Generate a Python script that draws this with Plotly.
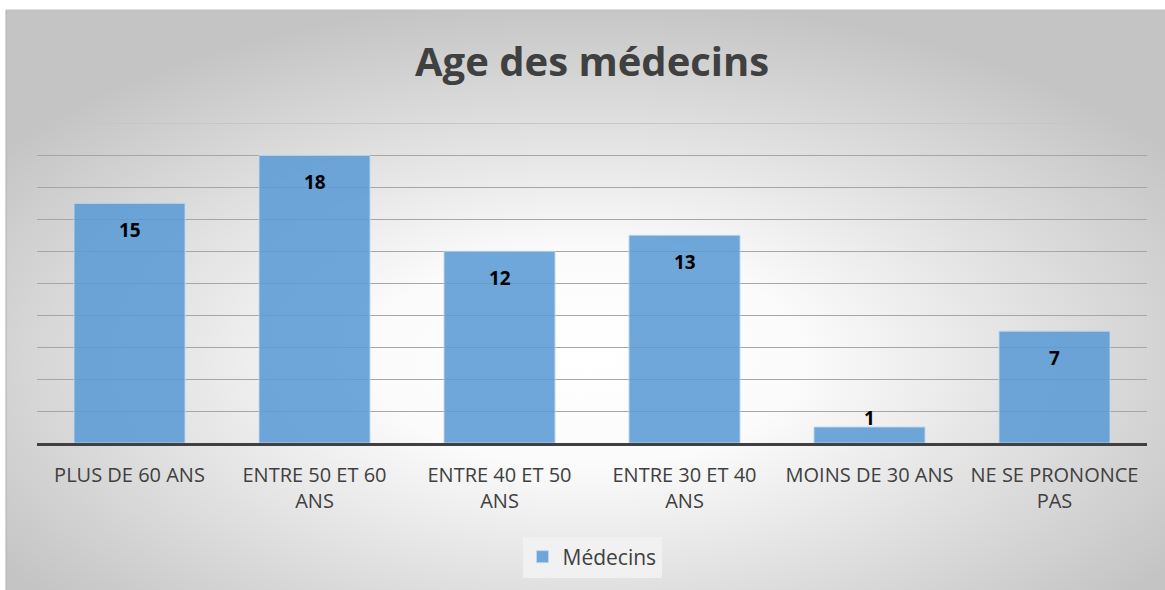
import plotly.graph_objects as go
import base64

categories = ["PLUS DE 60 ANS", "ENTRE 50 ET 60<br>ANS", "ENTRE 40 ET 50<br>ANS",
              "ENTRE 30 ET 40<br>ANS", "MOINS DE 30 ANS", "NE SE PRONONCE<br>PAS"]
values = [15, 18, 12, 13, 1, 7]
series_name = "Médecins"
title_text = "Age des médecins"
y_max = 20

W, H = 1165, 590
L, R, T, B = 37, 1147, 123, 443

def px(x):
    return (x - L) / (R - L)

def py(y):
    return (B - y) / (B - T)

svg = ('<svg xmlns="http://www.w3.org/2000/svg" width="1159" height="580" preserveAspectRatio="none">'
       '<defs><radialGradient id="g" cx="50%" cy="60%" r="62%" gradientUnits="objectBoundingBox">'
       '<stop offset="0" stop-color="#ffffff"/><stop offset="0.3" stop-color="#fbfbfb"/>'
       '<stop offset="1" stop-color="#c4c4c4"/></radialGradient></defs>'
       '<rect x="0" y="0" width="1159" height="580" fill="url(#g)"/></svg>')
src = "data:image/svg+xml;base64," + base64.b64encode(svg.encode()).decode()

fig = go.Figure()
fig.add_trace(go.Bar(
    x=categories, y=values, name=series_name,
    marker=dict(color="rgba(91,155,213,0.88)", line=dict(color="rgba(189,215,238,0.9)", width=1)),
    width=0.6, showlegend=True,
))

annotations = []
for c, v in zip(categories, values):
    inside = v >= 3
    annotations.append(dict(
        x=c, y=v, xref="x", yref="y", text=f"<b>{v}</b>", showarrow=False,
        yanchor="middle", yshift=-27 if inside else 9,
        font=dict(family="Open Sans", size=19, color="#000000"),
    ))
annotations.append(dict(
    x=0.5, y=py(60), xref="paper", yref="paper", text=f"<b>{title_text}</b>",
    showarrow=False, xanchor="center", yanchor="middle",
    font=dict(family="Open Sans", size=40, color="#404040"),
))

fig.update_layout(
    width=W, height=H,
    margin=dict(l=L, r=W - R, t=T, b=H - B, pad=0),
    paper_bgcolor="#ffffff", plot_bgcolor="rgba(0,0,0,0)",
    images=[dict(source=src, xref="paper", yref="paper",
                 x=px(6), y=py(10), sizex=px(1165) - px(6), sizey=py(10) - py(590),
                 xanchor="left", yanchor="top", sizing="stretch", layer="below")],
    annotations=annotations,
    bargap=0.4,
    xaxis=dict(showgrid=False, showline=True, linecolor="#404040", linewidth=3,
               tickfont=dict(family="Open Sans", size=20, color="#404040"),
               ticks="", ticklabelstandoff=12),
    yaxis=dict(range=[0, y_max + 0.03], dtick=2, showticklabels=False, showgrid=True,
               gridcolor="#a6a6a6", gridwidth=1, zeroline=False, showline=False),
    legend=dict(orientation="h", x=0.5, xanchor="center", y=py(557), yanchor="middle",
                bgcolor="rgba(242,242,242,0.9)", borderwidth=0,
                font=dict(family="Open Sans", size=21, color="#404040")),
    shapes=[dict(type="line", xref="paper", yref="paper", x0=px(6), x1=px(6), y0=py(10), y1=py(590),
                 line=dict(color="#b0b0b0", width=1), layer="below"),
            dict(type="line", xref="paper", yref="paper", x0=px(6), x1=px(1165), y0=py(10), y1=py(10),
                 line=dict(color="#c0c0c0", width=1), layer="below"),
            dict(type="line", xref="paper", yref="y", x0=0, x1=1, y0=y_max, y1=y_max,
                 line=dict(color="#c6c6c6", width=1), layer="below")],
)

fig.write_html("out.html", config={"displayModeBar": False},
               post_script="document.body.style.margin='0px';document.body.style.overflow='hidden';")
